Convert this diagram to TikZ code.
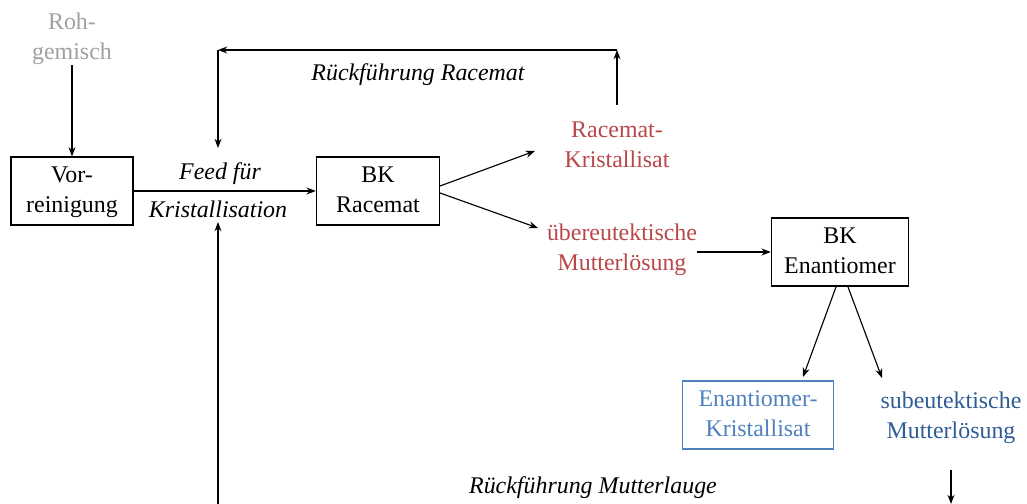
\documentclass[tikz,border=0pt]{standalone}
\usepackage{fontspec}
\setmainfont{Liberation Serif}
\usepackage{tikz}
\usetikzlibrary{arrows.meta,positioning}
\definecolor{rohgrau}{HTML}{A0A0A0}
\definecolor{racrot}{HTML}{B9474A}
\definecolor{enanblau}{HTML}{4F81BD}
\definecolor{subblau}{HTML}{2F5C96}

\begin{document}
\begin{tikzpicture}[>=Stealth, x=0.025cm, y=-0.025cm,
    txt/.style={align=center, font=\fontsize{17}{21.3}\selectfont, inner sep=0pt},
    lbl/.style={font=\fontsize{17}{21.3}\selectfont\itshape, inner sep=0pt},
    box/.style={draw, thick, txt, minimum height=1.7cm}]
  \useasboundingbox (0,0) rectangle (1027,504);
  % Zulauf und Vorreinigung
  \node[txt, text=rohgrau] (roh) at (72,39) {Roh-\\gemisch};
  \node[box, minimum width=3.05cm, text depth=2pt] (vor) at (72,191) {Vor-\\reinigung};
  \node[box, minimum width=3.08cm, text depth=2pt] (bkr) at (378,191) {BK\\Racemat};
  \node[txt, text=racrot] (rkr) at (617,145) {Racemat-\\Kristallisat};
  \node[txt, text=racrot] (uml) at (622,250) {übereutektische\\Mutterlösung};
  \node[box, minimum width=3.43cm, text depth=2pt] (bke) at (840,252) {BK\\Enantiomer};
  \node[box, draw=enanblau, text=enanblau, minimum width=3.78cm, text depth=2pt] (ekr) at (758,415) {Enantiomer-\\Kristallisat};
  \node[txt, text=subblau] (sml) at (951,418) {subeutektische\\Mutterlösung};
  \node[lbl] (feed) at (220,174) {Feed für};
  \node[lbl] (kri) at (218,209) {Kristallisation};
  \node[lbl] (rr) at (418,75) {Rückführung Racemat};
  \node[lbl] (rm) at (593,488) {Rückführung Mutterlauge};
  % Stuetzpunkte
  \coordinate (b1) at (440,186);
  \coordinate (b2) at (440,193);
  \coordinate (rk) at (535,151);
  \coordinate (um) at (538,228);
  \coordinate (r0) at (617,105);
  \coordinate (r1) at (617,50);
  \coordinate (r2) at (218,50);
  \coordinate (r3) at (218,148);
  \coordinate (m1) at (218,504);
  \coordinate (m2) at (218,222);
  \coordinate (e1) at (836,287);
  \coordinate (e2) at (848,287);
  \coordinate (s0) at (951,470);
  \coordinate (s1) at (951,504);
  % Verbindungen
  \draw[->, thick] (roh) -- (vor);
  \draw[->, thick] (vor) -- (bkr);
  \draw[->, thick] (b1) -- (rk);
  \draw[->, thick] (b2) -- (um);
  \draw[->, thick] (r0) -- (r1);
  \draw[->, thick] (r1) -- (r2);
  \draw[->, thick] (r2) -- (r3);
  \draw[->, thick] (uml.east |- bke) -- (bke);
  \draw[->, thick] (e1) -- (803,377);
  \draw[->, thick] (e2) -- (882,378);
  \draw[->, thick] (s0) -- (s1);
  \draw[->, thick] (m1) -- (m2);
\end{tikzpicture}
\end{document}
